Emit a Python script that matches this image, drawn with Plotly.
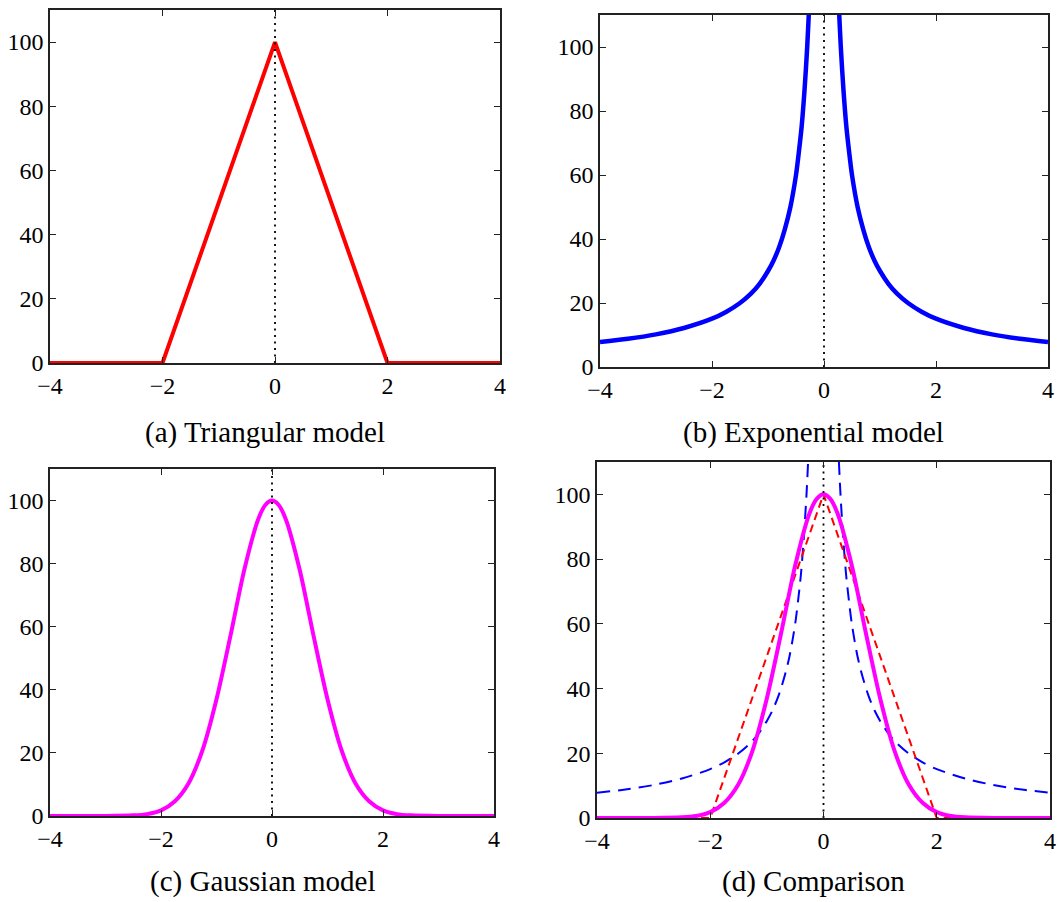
import plotly.graph_objects as go

# ---- data -------------------------------------------------------------
tick_x = [-4, -2, 0, 2, 4]
tick_y = [0, 20, 40, 60, 80, 100]

tri_x = [-4, -2, 0, 2, 4]
tri_y = [0, 0, 100, 0, 0]

exp_x = [-4.0, -3.5, -3.0, -2.5, -2.0, -1.75, -1.5, -1.3, -1.15, -1.0, -0.9,
         -0.8, -0.7, -0.6, -0.5, -0.45, -0.4, -0.35, -0.3, -0.26, -0.22,
         None,
         0.22, 0.26, 0.3, 0.35, 0.4, 0.45, 0.5, 0.6, 0.7, 0.8, 0.9, 1.0,
         1.15, 1.3, 1.5, 1.75, 2.0, 2.5, 3.0, 3.5, 4.0]
exp_y = [7.8, 8.8, 10.2, 12.2, 15.1, 17.2, 20, 23, 26, 30, 33.3,
         37.5, 43, 50, 60, 67, 75, 86, 100, 115, 136,
         None,
         136, 115, 100, 86, 75, 67, 60, 50, 43, 37.5, 33.3, 30,
         26, 23, 20, 17.2, 15.1, 12.2, 10.2, 8.8, 7.8]

gau_x = [-4, -3.5, -3, -2.5, -2.25, -2, -1.75, -1.5, -1.25, -1, -0.75, -0.5,
         -0.25, -0.12, 0, 0.12, 0.25, 0.5, 0.75, 1, 1.25, 1.5, 1.75, 2, 2.25,
         2.5, 3, 3.5, 4]
gau_y = [0, 0, 0, 0.2, 0.6, 1.8, 4.7, 10.5, 21, 37, 57, 78,
         94, 98.6, 100, 98.6, 94, 78, 57, 37, 21, 10.5, 4.7, 1.8, 0.6,
         0.2, 0, 0, 0]

center_x = [0, 0]
center_y = [0, 110]

captions = ["(a) Triangular model", "(b) Exponential model",
            "(c) Gaussian model", "(d) Comparison"]

# ---- layout geometry (pixels) ----------------------------------------
W, H = 1058, 902
panels = [  # left, right, top, bottom
    (50, 500, 10, 363),
    (600, 1048, 15, 367),
    (50, 494, 469, 816),
    (597, 1050, 462, 818),
]
caption_pos = [(265, 432), (813, 432), (263, 881), (813, 881)]

RED, BLUE, MAG = "#ff0000", "#0000ff", "#ff00ff"
SERIF = "Liberation Serif"

fig = go.Figure()


def add(panel, x, y, color, width, dash="solid", spline=False):
    sfx = "" if panel == 0 else str(panel + 1)
    fig.add_trace(go.Scatter(
        x=x, y=y, mode="lines", xaxis="x" + sfx, yaxis="y" + sfx,
        line=dict(color=color, width=width, dash=dash,
                  shape="spline" if spline else "linear", smoothing=0.8),
        connectgaps=False, showlegend=False, hoverinfo="skip"))


DOT = "2px,4.5px"

# (a) triangular
add(0, tri_x, tri_y, RED, 4)
add(0, center_x, center_y, "black", 1.8, DOT)
# (b) exponential
add(1, exp_x, exp_y, BLUE, 4.5, spline=True)
add(1, center_x, center_y, "black", 1.8, DOT)
# (c) gaussian
add(2, gau_x, gau_y, MAG, 4, spline=True)
add(2, center_x, center_y, "black", 1.8, DOT)
# (d) comparison
add(3, exp_x, exp_y, BLUE, 2, "13px,8px", spline=True)
add(3, tri_x, tri_y, RED, 2, "8px,5px")
add(3, gau_x, gau_y, MAG, 4, spline=True)
add(3, center_x, center_y, "black", 1.8, DOT)

layout = dict(
    width=W, height=H, margin=dict(l=0, r=0, t=0, b=0, autoexpand=False),
    paper_bgcolor="white", plot_bgcolor="white",
    font=dict(family=SERIF, size=24, color="black"),
)

for i, (l, r, t, b) in enumerate(panels):
    sfx = "" if i == 0 else str(i + 1)
    layout["xaxis" + sfx] = dict(
        domain=[l / W, r / W], range=[-4, 4],
        tickvals=tick_x, anchor="y" + sfx)
    layout["yaxis" + sfx] = dict(
        domain=[1 - b / H, 1 - t / H], range=[0, 110],
        tickvals=tick_y, anchor="x" + sfx)

layout["annotations"] = [
    dict(text=txt, x=cx / W, y=1 - cy / H, xref="paper", yref="paper",
         xanchor="center", yanchor="middle", showarrow=False,
         font=dict(family=SERIF, size=29, color="black"))
    for txt, (cx, cy) in zip(captions, caption_pos)
]

fig.update_layout(**layout)

axis_style = dict(
    showline=True, linecolor="#222", linewidth=1.5, mirror="allticks",
    ticks="inside", ticklen=6, tickwidth=1.3, tickcolor="#222",
    showgrid=False, zeroline=False, automargin=False,
    tickfont=dict(family=SERIF, size=24, color="black"),
)
fig.update_xaxes(**axis_style)
fig.update_yaxes(**axis_style)

fig.write_html("out.html")
